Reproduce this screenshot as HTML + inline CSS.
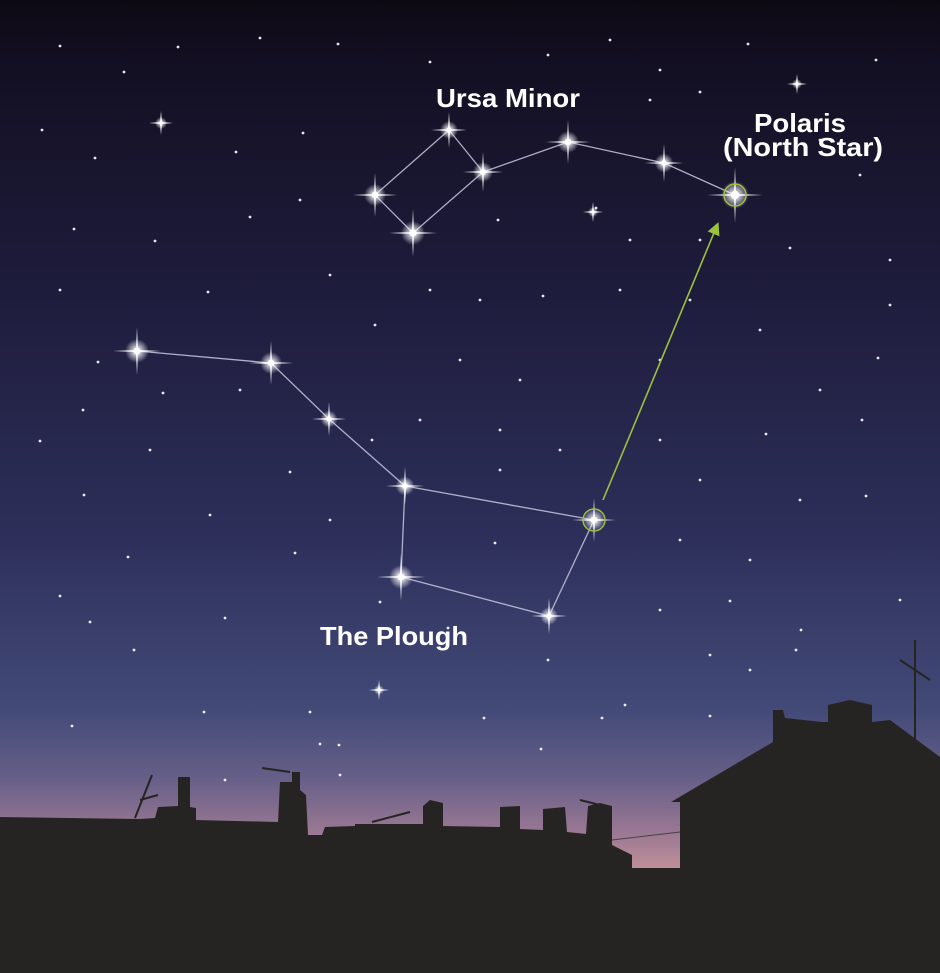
<!DOCTYPE html>
<html><head><meta charset="utf-8"><style>
html,body{margin:0;padding:0;background:#111}
svg{display:block}
text{font-family:"Liberation Sans",sans-serif;font-weight:bold;fill:#fff}
</style></head><body>
<svg id="sky" width="940" height="973" viewBox="0 0 940 973" xmlns="http://www.w3.org/2000/svg">
<defs>
<linearGradient id="g" x1="0" y1="0" x2="0" y2="1">
<stop offset="0" stop-color="#0d0914"/>
<stop offset="0.06" stop-color="#130f22"/>
<stop offset="0.3" stop-color="#1e1c3c"/>
<stop offset="0.55" stop-color="#2d2f5a"/>
<stop offset="0.73" stop-color="#434a78"/>
<stop offset="0.8" stop-color="#665f88"/>
<stop offset="0.86" stop-color="#9e7a94"/>
<stop offset="0.9" stop-color="#c8949a"/>
<stop offset="1" stop-color="#d09a9c"/>
</linearGradient>
<radialGradient id="glow"><stop offset="0" stop-color="#fff" stop-opacity="1"/><stop offset="0.35" stop-color="#fff" stop-opacity="0.7"/><stop offset="1" stop-color="#fff" stop-opacity="0"/></radialGradient>
<linearGradient id="sh" x1="0" x2="1"><stop offset="0" stop-color="#fff" stop-opacity="0"/><stop offset="0.5" stop-color="#fff"/><stop offset="1" stop-color="#fff" stop-opacity="0"/></linearGradient>
<linearGradient id="sv" x1="0" x2="0" y1="0" y2="1"><stop offset="0" stop-color="#fff" stop-opacity="0"/><stop offset="0.5" stop-color="#fff"/><stop offset="1" stop-color="#fff" stop-opacity="0"/></linearGradient>
<marker id="ah" markerWidth="8" markerHeight="8" refX="4" refY="4" orient="auto"><path d="M0,0 L8,4 L0,8 Z" fill="#9cc23c"/></marker>
</defs>
<rect width="940" height="973" fill="url(#g)"/>
<g id="small"></g>
<g id="lines" stroke="#c8c8e0" stroke-width="1.3" fill="none" opacity="0.85"></g>
<line x1="603" y1="500" x2="716" y2="228" stroke="#9cc23c" stroke-width="1.6" marker-end="url(#ah)"/>
<g id="big"></g>
<circle cx="735" cy="195" r="11" fill="none" stroke="#9cc23c" stroke-width="1.5"/>
<circle cx="594" cy="520" r="11" fill="none" stroke="#9cc23c" stroke-width="1.5"/>
<text x="508" y="107" font-size="26" text-anchor="middle" textLength="144" lengthAdjust="spacingAndGlyphs">Ursa Minor</text>
<text x="800" y="132" font-size="26" text-anchor="middle" textLength="92" lengthAdjust="spacingAndGlyphs">Polaris</text>
<text x="803" y="156" font-size="26" text-anchor="middle" textLength="160" lengthAdjust="spacingAndGlyphs">(North Star)</text>
<text x="394" y="645" font-size="26" text-anchor="middle" textLength="148" lengthAdjust="spacingAndGlyphs">The Plough</text>
<g fill="#262422">
<path d="M0,817 L140,819 L155,818 L158,807 L178,806 L178,777 L190,777 L190,807 L196,808 L196,820 L278,822 L280,782 L292,782 L292,772 L300,772 L300,790 L306,795 L308,835 L322,835 L325,827 L355,826 L355,824 L423,824 L423,806 L430,800 L443,803 L443,826 L500,827 L500,807 L520,806 L520,829 L543,830 L543,809 L565,807 L567,832 L586,834 L588,806 L600,803 L612,806 L612,845 L632,855 L632,868 L680,868 L680,802 L671,802 L773,742 L773,710 L783,710 L785,718 L822,722 L828,722 L828,705 L850,700 L872,705 L872,722 L890,720 L940,757 L940,973 L0,973 Z"/>
<rect x="914" y="640" width="2" height="110"/>
<path d="M900,660 L930,680" stroke="#262422" stroke-width="2"/>
<path d="M135,818 L152,775 M140,800 L158,795 M262,768 L290,772 M372,822 L410,812 M580,800 L600,805" stroke="#262422" stroke-width="2"/>
<path d="M612,840 L680,832" stroke="#444" stroke-width="1"/>
</g>
<script>
const bigStars=[[375,195,1.1],[413,233,1.2],[483,172,1],[449,130,0.9],[568,142,1.1],[664,163,0.95],[735,195,1.4],[137,351,1.2],[271,363,1.1],[329,419,0.85],[405,486,0.95],[594,520,1.1],[549,616,0.9],[401,577,1.2],[161,123,0.6],[593,212,0.5],[797,84,0.5],[379,690,0.5]];
const links=[[0,3],[3,2],[2,1],[1,0],[2,4],[4,5],[5,6],[7,8],[8,9],[9,10],[10,11],[11,12],[12,13],[13,10]];
const smallStars=[[60,46],[124,72],[178,47],[260,38],[338,44],[430,62],[548,55],[610,40],[660,70],[748,44],[876,60],[42,130],[95,158],[236,152],[303,133],[650,100],[700,92],[820,140],[860,175],[74,229],[155,241],[250,217],[300,200],[498,220],[596,208],[630,240],[700,240],[790,248],[890,260],[60,290],[208,292],[330,275],[430,290],[480,300],[543,296],[620,290],[690,300],[760,330],[890,305],[98,362],[163,393],[240,390],[375,325],[460,360],[520,380],[660,360],[878,358],[820,390],[83,410],[420,420],[372,440],[500,430],[560,450],[660,440],[766,434],[862,420],[40,441],[150,450],[290,472],[500,470],[700,480],[800,500],[866,496],[84,495],[210,515],[330,520],[495,543],[680,540],[750,560],[128,557],[295,553],[60,596],[225,618],[380,602],[448,628],[660,610],[730,601],[900,600],[90,622],[134,650],[548,660],[710,655],[796,650],[72,726],[204,712],[310,712],[320,744],[340,775],[484,718],[541,749],[602,718],[625,705],[710,716],[750,670],[801,630],[225,780],[339,745]];
const sm=document.getElementById('small');
smallStars.forEach(s=>{const c=document.createElementNS('http://www.w3.org/2000/svg','circle');


c.setAttribute('cx',s[0]);c.setAttribute('cy',s[1]);c.setAttribute('r',1.4);c.setAttribute('fill','#fff');c.setAttribute('opacity','0.9');sm.appendChild(c);});
const ln=document.getElementById('lines');
links.forEach(l=>{const a=bigStars[l[0]],b=bigStars[l[1]];const e=document.createElementNS('http://www.w3.org/2000/svg','line');


e.setAttribute('x1',a[0]);e.setAttribute('y1',a[1]);e.setAttribute('x2',b[0]);e.setAttribute('y2',b[1]);ln.appendChild(e);});
const bg=document.getElementById('big');const NS='http://www.w3.org/2000/svg';
bigStars.forEach(s=>{const [x,y,k]=s;const g=document.createElementNS(NS,'g');


const c=document.createElementNS(NS,'circle');c.setAttribute('cx',x);c.setAttribute('cy',y);c.setAttribute('r',10*k);c.setAttribute('fill','url(#glow)');g.appendChild(c);
const h=document.createElementNS(NS,'rect');h.setAttribute('x',x-20*k);h.setAttribute('y',y-1);h.setAttribute('width',40*k);h.setAttribute('height',2);h.setAttribute('fill','url(#sh)');g.appendChild(h);
const v=document.createElementNS(NS,'rect');v.setAttribute('x',x-1);v.setAttribute('y',y-20*k);v.setAttribute('width',2);v.setAttribute('height',40*k);v.setAttribute('fill','url(#sv)');g.appendChild(v);
const d=document.createElementNS(NS,'circle');d.setAttribute('cx',x);d.setAttribute('cy',y);d.setAttribute('r',3*k);d.setAttribute('fill','#fff');g.appendChild(d);
bg.appendChild(g);});
</script>
</svg>
</body></html>
